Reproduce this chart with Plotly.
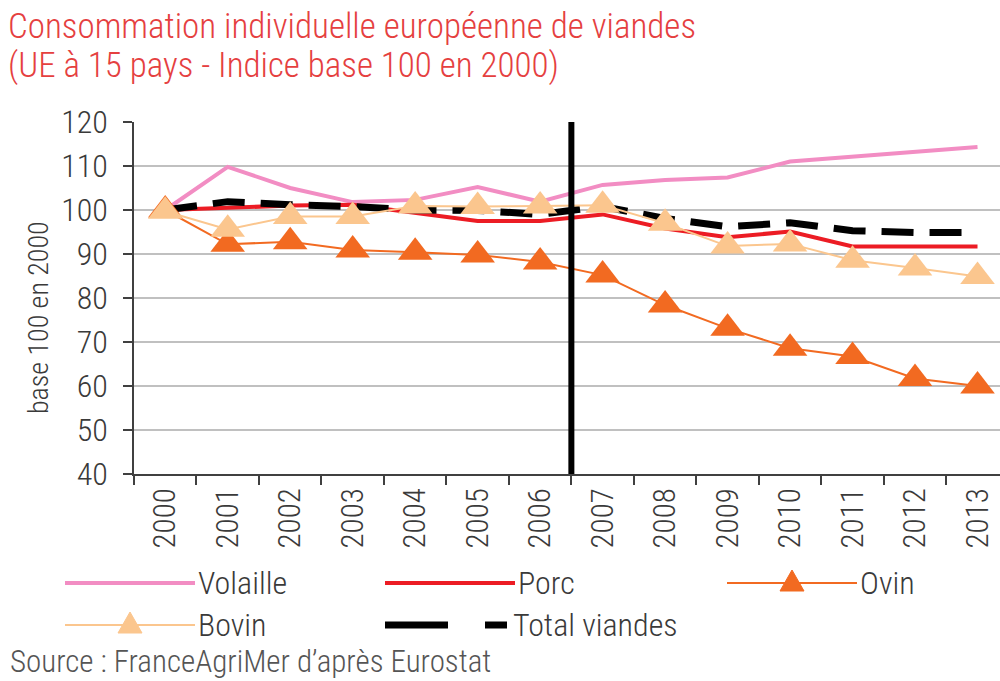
import plotly.graph_objects as go

years = [str(y) for y in range(2000, 2014)]
volaille = [100, 109.8, 105.0, 101.8, 102.3, 105.2, 101.9, 105.7, 106.8, 107.4, 111.0, 112.1, 113.3, 114.3]
porc = [100, 100.6, 101.0, 101.2, 99.4, 97.5, 97.5, 99.0, 95.8, 93.8, 95.1, 91.7, 91.7, 91.7]
total = [100, 101.9, 101.2, 100.8, 100.0, 99.9, 99.0, 100.8, 98.1, 96.2, 97.1, 95.3, 94.9, 94.9]
bovin = [99.7, 95.6, 98.5, 98.5, 100.9, 100.8, 100.9, 101.1, 97.0, 91.8, 92.3, 88.6, 86.8, 84.9]
ovin = [100, 92.2, 92.8, 90.9, 90.4, 89.8, 88.2, 85.2, 78.4, 73.1, 68.6, 66.7, 61.7, 60.0]
y_ticks = [40, 50, 60, 70, 80, 90, 100, 110, 120]

C_VOL = "#F28DC3"
C_PORC = "#EC1C24"
C_OVIN = "#F26A21"
C_BOV = "#FBC68E"
C_TOT = "#000000"
FONT = "Liberation Sans Narrow, Roboto Condensed, Roboto, sans-serif"
TXT = "#3a3a3a"

W, H = 1000, 681
ML, MR, MT, MB = 134, 0, 122, 207
PW, PH = W - ML - MR, H - MT - MB


def px(x):
    return (x - ML) / PW


def py(y):
    return (H - MB - y) / PH


fig = go.Figure()
fig.add_trace(go.Scatter(x=years, y=volaille, mode="lines", name="Volaille",
                         line=dict(color=C_VOL, width=4)))
fig.add_trace(go.Scatter(x=years, y=porc, mode="lines", name="Porc",
                         line=dict(color=C_PORC, width=4)))
fig.add_trace(go.Scatter(x=years, y=total, mode="lines", name="Total viandes",
                         line=dict(color=C_TOT, width=7, dash="32px,16px")))
fig.add_trace(go.Scatter(x=years, y=ovin, mode="lines+markers", name="Ovin",
                         line=dict(color=C_OVIN, width=2),
                         marker=dict(symbol="triangle-up", size=30, color=C_OVIN)))
fig.add_trace(go.Scatter(x=years, y=bovin, mode="lines+markers", name="Bovin",
                         line=dict(color=C_BOV, width=2),
                         marker=dict(symbol="triangle-up", size=30, color=C_BOV)))

shapes = []
# vertical separator between 2006 and 2007
shapes.append(dict(type="line", xref="x", yref="y", x0=6.5, x1=6.5, y0=40, y1=123.9,
                   line=dict(color="black", width=6), layer="above"))

# custom legend
legend_items = [
    ("Volaille", C_VOL, 4, None, False, 65, 583),
    ("Porc", C_PORC, 4, None, False, 385, 583),
    ("Ovin", C_OVIN, 2, "tri", False, 727, 583),
    ("Bovin", C_BOV, 2, "tri", False, 65, 625),
    ("Total viandes", C_TOT, 7, None, True, 385, 625),
]
annotations = []
for name, col, wdt, mk, dashed, x0, yc in legend_items:
    if dashed:
        shapes.append(dict(type="line", xref="paper", yref="paper", x0=px(x0), x1=px(x0 + 63),
                           y0=py(yc), y1=py(yc), line=dict(color=col, width=wdt)))
        shapes.append(dict(type="line", xref="paper", yref="paper", x0=px(x0 + 100), x1=px(x0 + 122),
                           y0=py(yc), y1=py(yc), line=dict(color=col, width=wdt)))
        tx = x0 + 126
    else:
        shapes.append(dict(type="line", xref="paper", yref="paper", x0=px(x0), x1=px(x0 + 130),
                           y0=py(yc), y1=py(yc), line=dict(color=col, width=wdt)))
        tx = x0 + 131
    if mk == "tri":
        cx = x0 + 65
        path = "M {},{} L {},{} L {},{} Z".format(px(cx - 12), py(yc + 8), px(cx + 12), py(yc + 8),
                                                  px(cx), py(yc - 13))
        shapes.append(dict(type="path", xref="paper", yref="paper", path=path,
                           fillcolor=col, line=dict(color=col, width=1)))
    annotations.append(dict(text=name, xref="paper", yref="paper", x=px(tx), y=py(yc),
                            xanchor="left", yanchor="middle", showarrow=False,
                            font=dict(family=FONT, size=32, color=TXT, weight=300)))

annotations.append(dict(text="Source : FranceAgriMer d’après Eurostat", xref="paper", yref="paper",
                        x=px(8), y=py(661), xanchor="left", yanchor="middle", showarrow=False,
                        font=dict(family=FONT, size=31, color="#555555", weight=300)))
annotations.append(dict(text="base 100 en 2000", xref="paper", yref="paper",
                        x=px(38), y=py(318), xanchor="center", yanchor="middle", textangle=-90,
                        showarrow=False, font=dict(family=FONT, size=28, color=TXT, weight=300)))
title_lines = ["Consommation individuelle européenne de viandes",
               "(UE à 15 pays - Indice base 100 en 2000)"]
for i, t in enumerate(title_lines):
    annotations.append(dict(text=t, xref="paper", yref="paper", x=px(6), y=py(26 + 40 * i),
                            xanchor="left", yanchor="middle", showarrow=False,
                            font=dict(family=FONT, size=35, color="#E5403F", weight=300)))

fig.update_layout(
    width=W, height=H,
    margin=dict(l=ML, r=MR, t=MT, b=MB),
    paper_bgcolor="white", plot_bgcolor="white",
    showlegend=False,
    shapes=shapes,
    annotations=annotations,
    xaxis=dict(type="category", range=[-0.5, 13.36], tickson="boundaries", ticks="outside",
               ticklen=9, tickwidth=1.5, tickcolor="#404040", showline=True, linecolor="#404040",
               linewidth=1.5, showgrid=False, tickangle=-90,
               tickfont=dict(family=FONT, size=31, color=TXT, weight=300)),
    yaxis=dict(range=[40, 120], tickvals=y_ticks, ticks="outside", ticklen=9, tickwidth=1.5,
               tickcolor="#404040", showline=True, linecolor="#404040", linewidth=1.5,
               showgrid=True, gridcolor="#C0C0C0", gridwidth=1.5, zeroline=False,
               ticklabelstandoff=9,
               tickfont=dict(family=FONT, size=32, color=TXT, weight=300)),
)

fig.write_html("out.html", config={"displayModeBar": False},
               post_script="document.body.style.margin='0px';document.body.style.overflow='hidden';")
